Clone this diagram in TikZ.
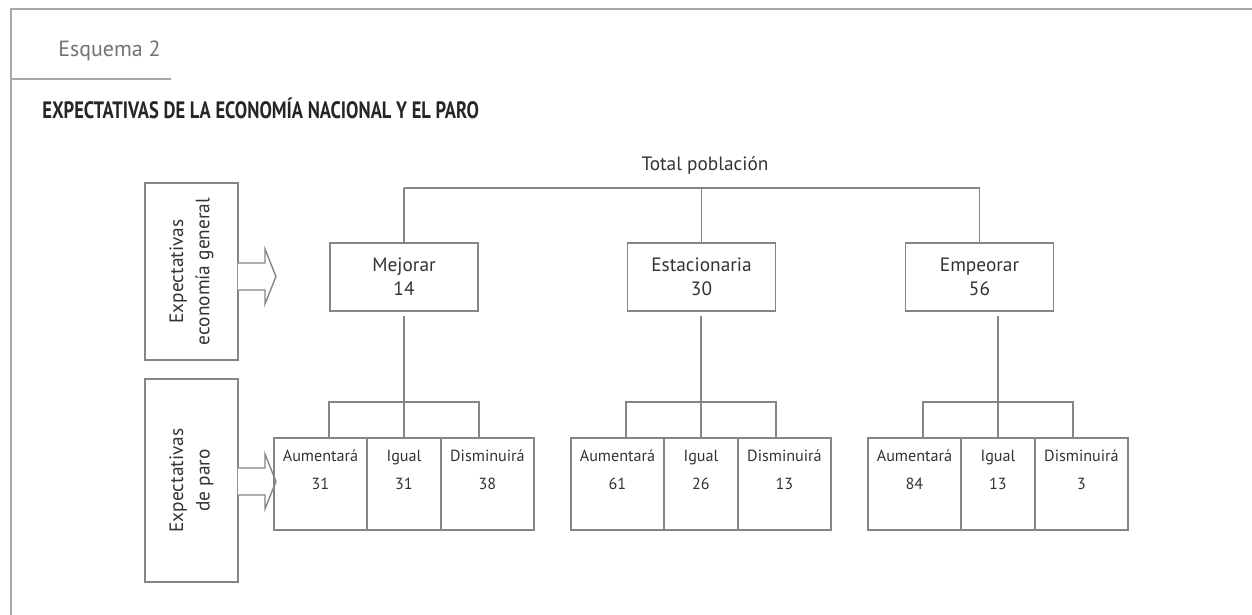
\documentclass[tikz,border=0pt]{standalone}
\usepackage{fontspec}
\setmainfont{PT Sans}
\newfontfamily\titlefont[FakeStretch=0.78]{PT Sans Bold}
\usetikzlibrary{positioning,calc}

\definecolor{linegray}{HTML}{858585}
\definecolor{framegray}{HTML}{A8A8A8}
\definecolor{inkgray}{HTML}{333333}

\tikzset{
    panel/.style = {
        draw=linegray,
        line width=0.8pt,
        minimum width=2.96cm,
        minimum height=1.36cm,
        align=center,
        inner sep=0,
        outer sep=0,
        font=\fontsize{11}{13.5}\selectfont,
    },
    cell/.style = {
        draw=linegray,
        line width=0.8pt,
        minimum height=1.84cm,
        inner sep=0,
        outer sep=0,
        anchor=north west,
    },
    cell text/.style = {
        anchor=base,
        inner sep=0,
        font=\fontsize{9.2}{11}\selectfont,
    },
    side box/.style = {
        draw=linegray,
        line width=0.8pt,
        minimum width=1.86cm,
        inner sep=0,
        outer sep=0,
        anchor=north west,
    },
    side text/.style = {
        rotate=90,
        align=center,
        font=\fontsize{11}{15}\selectfont,
    },
    link/.style = {
        draw=linegray,
        line width=0.8pt,
    },
    block arrow/.style = {
        draw=linegray,
        line width=0.8pt,
        fill=white,
    },
}

\begin{document}
\begin{tikzpicture}[x=0.02cm, y=-0.02cm, text=inkgray]

    \useasboundingbox (0,0) rectangle (1252,615);

    % frame and headings
    \draw[framegray, line width=1pt] (1252,9) -- (11,9) -- (11,615);
    \draw[framegray, line width=1pt] (11,79) -- (171,79);
    \node[anchor=base west, inner sep=0, text=black!55, font=\fontsize{12.5}{14}\selectfont] (esquema) at (58,57) {Esquema 2};
    \node[anchor=base west, inner sep=0, text=black!85, font=\fontsize{13.5}{15}\selectfont] (heading) at (42,119) {\titlefont EXPECTATIVAS DE LA ECONOMÍA NACIONAL Y EL PARO};

    % side labels
    \node[side box, minimum height=3.54cm] (sidegen) at (145,183) {};
    \node[side text] (sidegentext) at (sidegen.center) {Expectativas\\economía general};
    \node[side box, minimum height=4.06cm] (sideparo) at (145,379) {};
    \node[side text] (sideparotext) at (sideparo.center) {Expectativas\\de paro};

    \foreach \s/\dy in {sidegen/5, sideparo/1} {
        \draw[block arrow] ($(\s.east)+(0,\dy)$) ++(0,-13.5) -- ++(27,0) -- ++(0,-14)
            -- ++(11,27.5) -- ++(-11,27.5) -- ++(0,-14) -- ++(-27,0);
    }

    % total and first level
    \node[anchor=base, inner sep=0, font=\fontsize{11}{13}\selectfont] (total) at (705,171) {Total población};
    \coordinate (bar) at (0,188);

    \foreach \name/\lab/\val/\cx in {
        mej/Mejorar/14/404,
        est/Estacionaria/30/701.5,
        emp/Empeorar/56/979.5
    } {
        \node[panel] (\name) at (\cx,277) {\lab\\\val};
        \draw[link] (\name.north) -- (\name.north |- bar);
    }
    \draw[link] (mej.north |- bar) -- (emp.north |- bar);

    % second level
    \foreach \g/\name/\gx/\a/\b/\c in {
        1/mej/274/31/31/38,
        2/est/571/61/26/13,
        3/emp/868/84/13/3
    } {
        \node[cell, minimum width=1.86cm] (g\g a) at (\gx,438) {};
        \node[cell, minimum width=1.48cm] (g\g b) at (g\g a.north east) {};
        \node[cell, minimum width=1.86cm] (g\g c) at (g\g b.north east) {};

        \foreach \k/\lab/\val in {a/Aumentará/\a, b/Igual/\b, c/Disminuirá/\c} {
            \node[cell text, yshift=-0.48cm] (g\g\k lab) at (g\g\k.north) {\lab};
            \node[cell text, yshift=-1.04cm] (g\g\k val) at (g\g\k.north) {\val};
        }

        % stem and bracket
        \draw[link] ($(\name.south -| g\g b.north)+(0,5)$) -- (g\g b.north);
        \draw[link] ($(g\g b.north)+(-75,0)$) -- ++(0,-36) -- ++(150,0) -- ++(0,36);
    }

\end{tikzpicture}
\end{document}
